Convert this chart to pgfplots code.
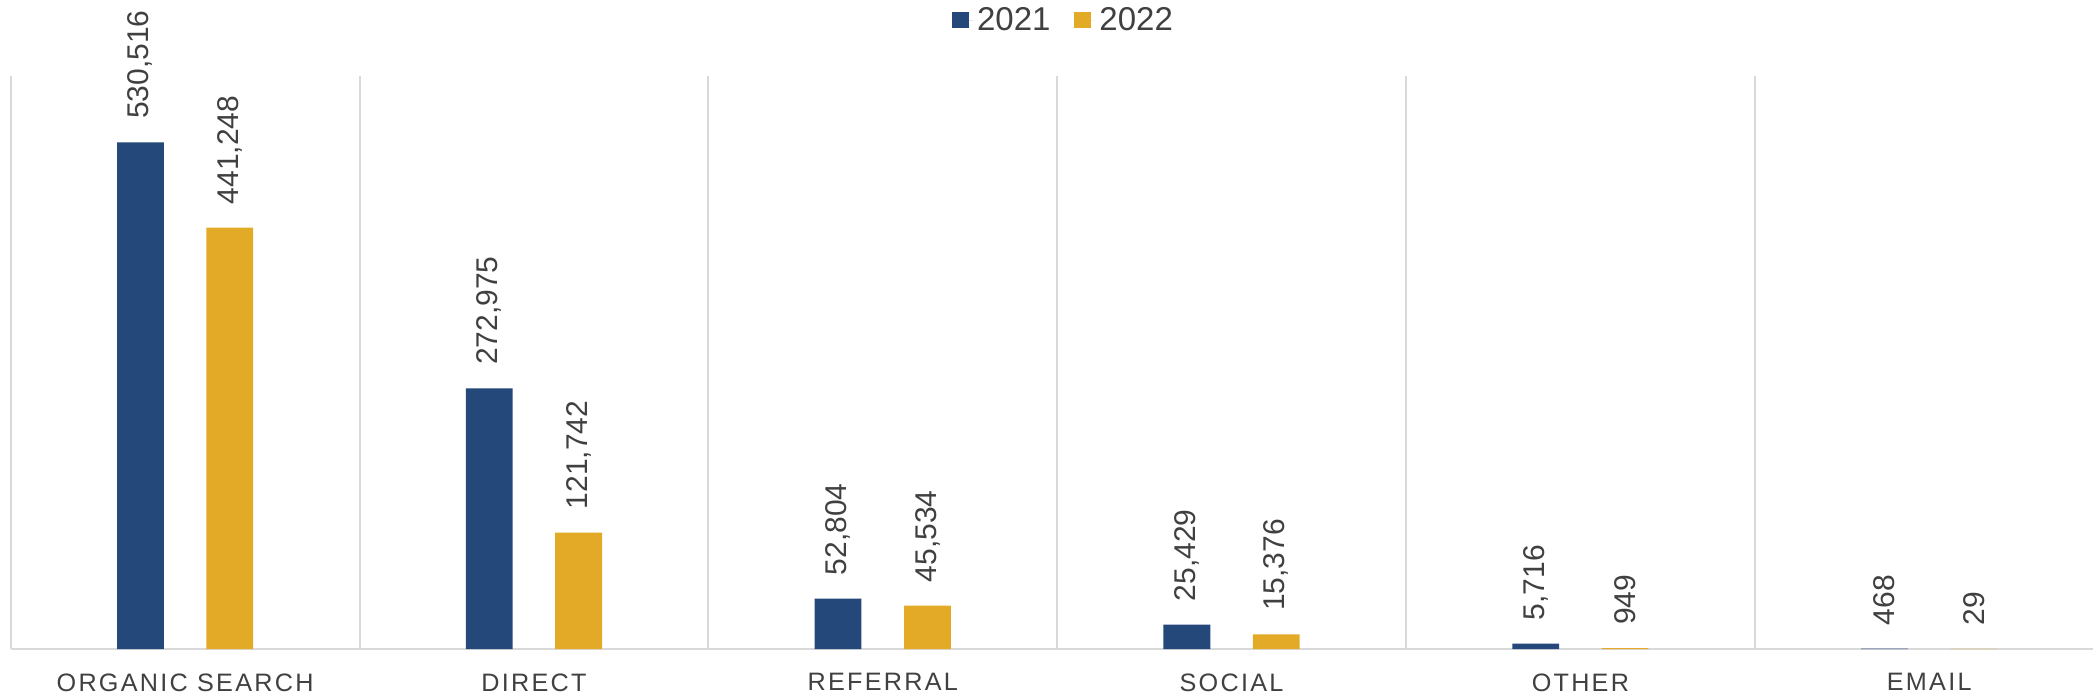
\documentclass[border=0pt]{standalone}
\usepackage{fontspec}
\setmainfont{Liberation Sans}
\newfontfamily\catfont[LetterSpace=9]{Liberation Sans}
\usepackage{pgfplots}
\pgfplotsset{compat=1.18}
\definecolor{cblue}{HTML}{24487A}
\definecolor{cgold}{HTML}{E2AA26}
\definecolor{gridgray}{HTML}{D9D9D9}
\definecolor{txt}{HTML}{404040}
\begin{document}
\begin{tikzpicture}
\path[use as bounding box] (0,0) rectangle (1046.5pt,349pt);
\begin{axis}[
  at={(5.35pt,24.5pt)}, anchor=south west,
  scale only axis, width=1046.5pt, height=286.5pt,
  xmin=-0.5, xmax=5.5, ymin=0, ymax=600000,
  ybar, bar width=23.4pt,
  axis y line=none,
  axis x line*=bottom,
  x axis line style={draw=gridgray, line width=1.2pt},
  xtick={0,1,2,3,4,5},
  xticklabels={ORGANIC SEARCH, DIRECT, REFERRAL, SOCIAL, OTHER, EMAIL},
  major tick length=0pt,
  xticklabel style={font=\catfont\fontsize{12.6}{14}\selectfont, text=txt, yshift=-8.7pt},
  minor xtick={-0.5,0.5,1.5,2.5,3.5,4.5,5.5},
  minor tick length=0pt,
  xminorgrids, minor grid style={draw=gridgray, line width=1pt},
  ytick=\empty,
  nodes near coords={\pgfmathprintnumber[fixed,precision=0,1000 sep={,},assume math mode=true]{\pgfplotspointmeta}},
  every node near coord/.append style={rotate=90, anchor=west, inner xsep=11.5pt, inner ysep=0pt, font=\fontsize{15}{17}\selectfont, text=txt},
  legend columns=2,
  legend style={draw=none, fill=none, at={(0.5035,1.0977)}, anchor=center, font=\fontsize{16.5}{18}\selectfont, text=txt,
    /tikz/every even column/.append style={column sep=10pt}},
  legend image code/.code={\fill[#1] (0pt,-4.15pt) rectangle (8.3pt,4.15pt); \path (0pt,0pt) -- (10.5pt,0pt);},
  clip=false,
]
\addplot[fill=cblue, draw=none, bar shift=-22.35pt] coordinates {(0,530516) (1,272975) (2,52804) (3,25429) (4,5716) (5,468)};
\addplot[fill=cgold, draw=none, bar shift=22.35pt] coordinates {(0,441248) (1,121742) (2,45534) (3,15376) (4,949) (5,29)};
\legend{2021,2022}
\end{axis}
\end{tikzpicture}
\end{document}
